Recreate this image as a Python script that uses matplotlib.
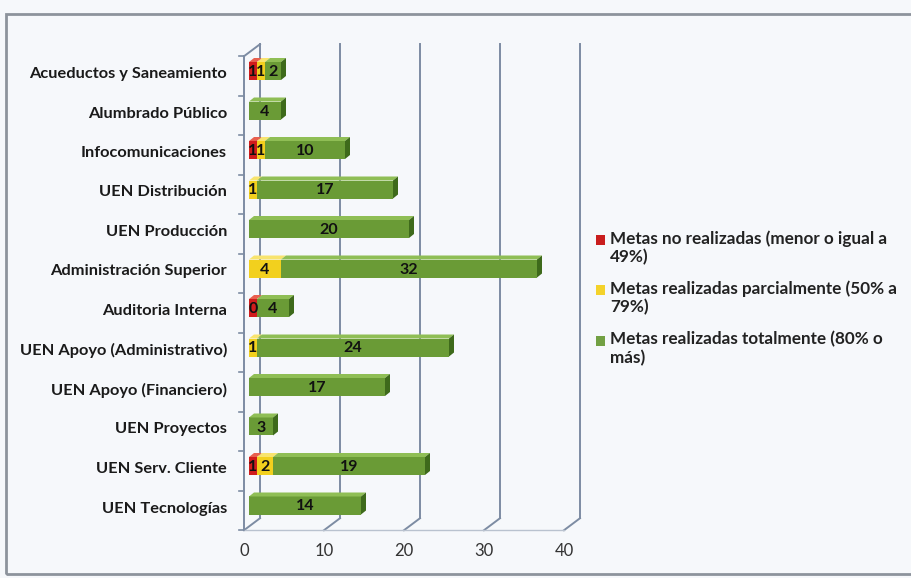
import matplotlib.pyplot as plt
from matplotlib.patches import Polygon, Rectangle

# data (top to bottom as in the chart)
areas = ["Acueductos y Saneamiento", "Alumbrado Público", "Infocomunicaciones",
         "UEN Distribución", "UEN Producción", "Administración Superior",
         "Auditoria Interna", "UEN Apoyo (Administrativo)", "UEN Apoyo (Financiero)",
         "UEN Proyectos", "UEN Serv. Cliente", "UEN Tecnologías"]
no_realizadas = [1, 0, 1, 0, 0, 0, 1, 0, 0, 0, 1, 0]
no_realizadas_txt = ["1", "", "1", "", "", "", "0", "", "", "", "1", ""]
parciales = [1, 0, 1, 1, 0, 4, 0, 1, 0, 0, 2, 0]
totales = [2, 4, 10, 17, 20, 32, 4, 24, 17, 3, 19, 14]
xticks = [0, 10, 20, 30, 40]
legend_labels = ["Metas no realizadas (menor o igual a\n49%)",
                 "Metas realizadas parcialmente (50% a\n79%)",
                 "Metas realizadas totalmente (80% o\nmás)"]

# colours: front, top, side
colores = [("#d01c1c", "#e8604f", "#8c1010"),
           ("#f2d01e", "#f8e46e", "#b39812"),
           ("#6a9b36", "#8fbe55", "#3e6a1b")]
legend_cols = ["#c91d1d", "#f4d22a", "#72a043"]

W, H = 912, 578
fig = plt.figure(figsize=(W / 100, H / 100), dpi=100)
fig.patch.set_facecolor("#f6f8fb")
plt.rcParams['font.family'] = ['Lato', 'DejaVu Sans']

# axes placed in pixels: x 0 -> 244px, 8 px per unit; rows every 39.5 px from y=73
ax_l, ax_r, ax_t, ax_b = 200, 600, 30, 545
ax = fig.add_axes([ax_l / W, 1 - ax_b / H, (ax_r - ax_l) / W, (ax_b - ax_t) / H])
PX = 1 / 8.0
PY = 1 / 39.5
ax.set_xlim((ax_l - 244) * PX, (ax_r - 244) * PX)
ax.set_ylim((ax_b - 74) * PY, (ax_t - 74) * PY)
ax.set_axis_off()

# 3D box
wdx, wdy = 16 * PX, -12 * PY
y_top, y_bot = -0.45, 11.55
lc = "#7d8ca3"
for x in xticks:
    ax.plot([x + wdx, x + wdx], [y_top + wdy, y_bot + wdy], color=lc, lw=1.4)
    ax.plot([x, x + wdx], [y_bot, y_bot + wdy], color=lc, lw=1.4)
    ax.text(x, y_bot + 21 * PY, str(x), ha="center", va="center", fontsize=12, color="#333333")
ax.plot([0, 0], [y_top, y_bot], color=lc, lw=1.4)
ax.plot([0, wdx], [y_top, y_top + wdy], color=lc, lw=1.4)
ax.plot([0, xticks[-1]], [y_bot, y_bot], color="#b9c2cf", lw=1.0)
for k in range(len(areas) + 1):
    ax.plot([-5 * PX, 0], [y_top + k, y_top + k], color=lc, lw=1.2)

# bars
h = 18 * PY
fdx, fdy = 5 * PX, -3 * PY
bdx, bdy = 5 * PX, -4 * PY
series = [no_realizadas, parciales, totales]
for i, name in enumerate(areas):
    ax.text(-17 * PX, i, name, ha="right", va="center", fontsize=11.8,
            fontweight="bold", color="#1a1a1a")
    left = 0
    last = max(s for s in range(3) if series[s][i] > 0)
    for s in range(3):
        v = series[s][i]
        if v <= 0:
            continue
        front, top, side = colores[s]
        yc = i + fdy
        ax.barh(yc, v, left=left + fdx, height=h, color=front, edgecolor="none", zorder=3)
        yt = yc - h / 2
        yb = yc + h / 2
        x0, x1 = left + fdx, left + v + fdx
        ax.add_patch(Polygon([(x0, yt), (x1, yt), (x1 + bdx, yt + bdy), (x0 + bdx, yt + bdy)],
                             closed=True, facecolor=top, edgecolor="none", zorder=3))
        if s == last:
            ax.add_patch(Polygon([(x1, yt), (x1 + bdx, yt + bdy), (x1 + bdx, yb + bdy), (x1, yb)],
                                 closed=True, facecolor=side, edgecolor="none", zorder=3))
        txt = no_realizadas_txt[i] if s == 0 else str(v)
        ax.text((x0 + x1) / 2, yc + 1 * PY, txt, ha="center", va="center", fontsize=11.5,
                fontweight="bold", color="#111111", zorder=4)
        left += v

# legend
ys = [240, 290, 341]
for lab, col, y in zip(legend_labels, legend_cols, ys):
    fig.patches.append(Rectangle(((596) / W, 1 - (y + 5) / H), 9 / W, 10 / H,
                                 transform=fig.transFigure, facecolor=col, edgecolor="none"))
    fig.text(610 / W, 1 - (y - 10) / H, lab, ha="left", va="top", fontsize=12.3,
             fontweight="bold", color="#222222", linespacing=1.2)

# frame
fig.patches.append(Rectangle((6 / W, 4 / H), 1.0, 1 - 18 / H, transform=fig.transFigure,
                             facecolor="none", edgecolor="#8d939c", lw=2))

fig.savefig("out.png", dpi=100, facecolor=fig.get_facecolor())
